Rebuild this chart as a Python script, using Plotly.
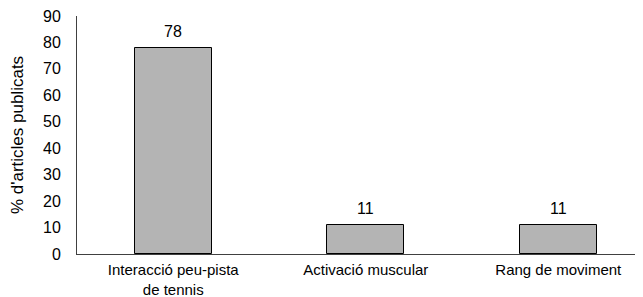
import plotly.graph_objects as go

categories = ["Interacció peu-pista<br>de tennis", "Activació muscular", "Rang de moviment"]
values = [78, 11, 11]
y_ticks = [0, 10, 20, 30, 40, 50, 60, 70, 80, 90]

xs = list(range(len(categories)))

fig = go.Figure(go.Bar(
    x=xs,
    y=values,
    width=0.4,
    marker=dict(color="#b4b4b4", line=dict(color="#000000", width=1)),
    hoverinfo="skip",
))

for x, v in zip(xs, values):
    fig.add_annotation(x=x, y=v, text=str(v), showarrow=False,
                       yanchor="bottom", yshift=6,
                       font=dict(size=16, color="#000000"))

# page body has an 8px default margin, so the figure is sized to fit the window
fig.update_layout(
    width=635, height=289,
    margin=dict(l=69, r=0, t=8, b=43),
    plot_bgcolor="white", paper_bgcolor="white",
    font=dict(family="Liberation Sans, Arial, sans-serif", size=16, color="#000000"),
    showlegend=False,
    bargap=0,
)
fig.update_xaxes(
    tickmode="array", tickvals=xs, ticktext=categories,
    range=[-0.5, 2.44], showline=True, linecolor="#404040", linewidth=1,
    ticks="", showgrid=False, zeroline=False, tickfont=dict(size=15),
    automargin=False, ticklabelstandoff=2, ticklabeloverflow="allow",
)
fig.update_yaxes(
    range=[0, 90], tickvals=y_ticks, showline=True, linecolor="#404040", linewidth=1,
    ticks="", showgrid=False, zeroline=False, tickfont=dict(size=16),
    automargin=False, ticklabelstandoff=12, ticklabeloverflow="allow",
    title=dict(text="% d'articles publicats", font=dict(size=17), standoff=16),
)

fig.write_html("out.html")
